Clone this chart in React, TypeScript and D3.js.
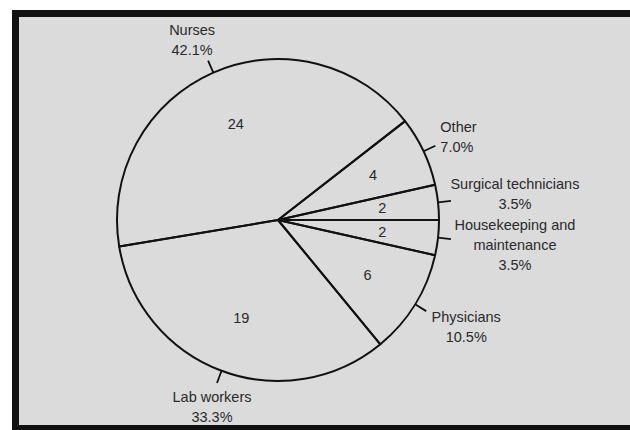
import React from 'react';
import * as d3 from 'd3';

// ---- data ----
const categories = [
  'Housekeeping and maintenance',
  'Physicians',
  'Lab workers',
  'Nurses',
  'Other',
  'Surgical technicians',
];
const values = [2, 6, 19, 24, 4, 2];
const labelLines = [
  ['Housekeeping and', 'maintenance'],
  ['Physicians'],
  ['Lab workers'],
  ['Nurses'],
  ['Other'],
  ['Surgical technicians'],
];

// ---- layout (positions relative to tick ends) ----
const labelLayout = [
  { dx: 64, dy: -9, anchor: 'middle' },
  { dx: 40, dy: 11, anchor: 'middle' },
  { dx: -5, dy: 19, anchor: 'middle' },
  { dx: -16, dy: -26, anchor: 'middle' },
  { dx: 5, dy: -14, anchor: 'start' },
  { dx: 64, dy: -12, anchor: 'middle' },
];

const W = 630;
const H = 430;
const cx = 278;
const cy = 220;
const R = 161;
const TICK = 13;
const LINE = 20;
const FONT = '"Liberation Sans", Arial, sans-serif';

export default function App() {
  const total = d3.sum(values);
  const pct = d3.format('.1%');
  const pie = d3
    .pie<number>()
    .sort(null)
    .value((d) => d)
    .startAngle(Math.PI / 2)
    .endAngle(Math.PI / 2 + 2 * Math.PI);
  const arcs = pie(values);
  const arc = d3.arc<d3.PieArcDatum<number>>().innerRadius(0).outerRadius(R);
  const inner = d3.arc<d3.PieArcDatum<number>>().innerRadius(105).outerRadius(105);
  const tickIn = d3.arc<d3.PieArcDatum<number>>().innerRadius(R).outerRadius(R);
  const tickOut = d3.arc<d3.PieArcDatum<number>>().innerRadius(R + TICK).outerRadius(R + TICK);

  return (
    <svg
      width={W}
      height={H}
      style={{ position: 'absolute', left: 0, top: 0, background: '#ffffff', display: 'block' }}
      fontFamily={FONT}
    >
      {/* frame: gray panel with black left, top and bottom borders */}
      <rect x={19} y={17} width={W - 19} height={408} fill="#dbdbdb" />
      <rect x={12} y={10} width={W - 12} height={7} fill="#111" />
      <rect x={12} y={10} width={7} height={H - 10} fill="#111" />
      <rect x={12} y={425} width={W - 12} height={5} fill="#111" />
      <g transform={`translate(${cx},${cy})`}>
        {arcs.map((a, i) => (
          <path key={categories[i]} d={arc(a) || ''} fill="none" stroke="#111" strokeWidth={2} strokeLinejoin="round" />
        ))}
        {arcs.map((a, i) => {
          const [x1, y1] = tickIn.centroid(a);
          const [x2, y2] = tickOut.centroid(a);
          return <line key={'t' + i} x1={x1} y1={y1} x2={x2} y2={y2} stroke="#111" strokeWidth={1.8} />;
        })}
        {arcs.map((a, i) => {
          const [x, y] = inner.centroid(a);
          return (
            <text key={'v' + i} x={x} y={y} textAnchor="middle" dominantBaseline="central" fontSize={14.5} fill="#2a2a2a">
              {values[i]}
            </text>
          );
        })}
        {arcs.map((a, i) => {
          const [x, y] = tickOut.centroid(a);
          const L = labelLayout[i];
          const lines = [...labelLines[i], pct(values[i] / total)];
          return (
            <text key={'l' + i} x={x + L.dx} y={y + L.dy} textAnchor={L.anchor as any} fontSize={14.5} fill="#2a2a2a">
              {lines.map((s, j) => (
                <tspan key={j} x={x + L.dx} y={y + L.dy + j * LINE}>
                  {s}
                </tspan>
              ))}
            </text>
          );
        })}
      </g>
    </svg>
  );
}
